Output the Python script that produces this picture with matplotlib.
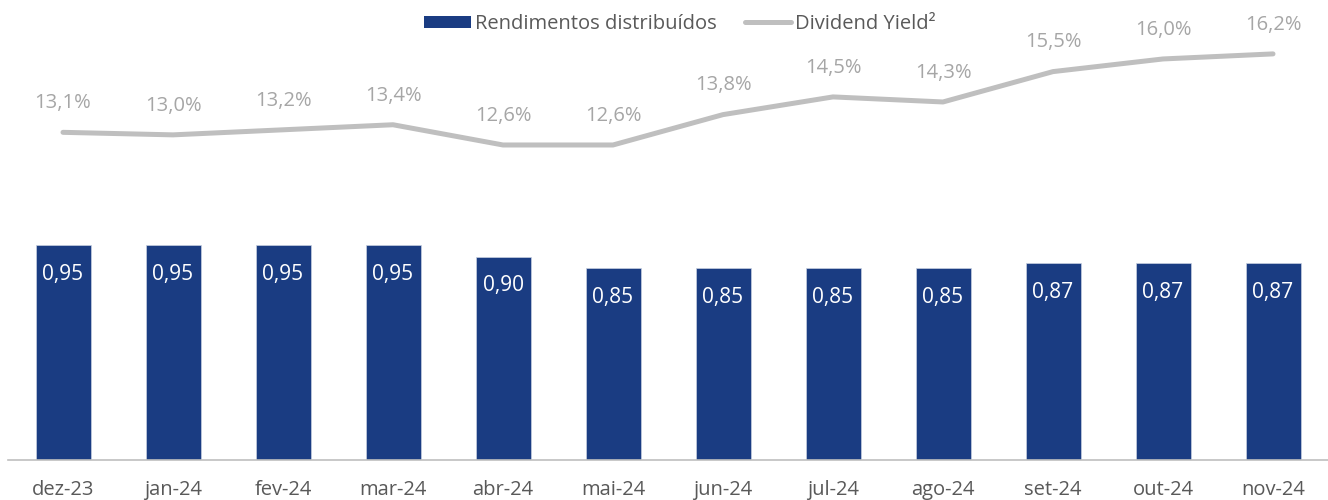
import numpy as np
import matplotlib.pyplot as plt
from matplotlib.patches import Patch
from matplotlib.lines import Line2D

plt.rcParams['font.family'] = ['Open Sans', 'DejaVu Sans']

meses = ['dez-23', 'jan-24', 'fev-24', 'mar-24', 'abr-24', 'mai-24',
         'jun-24', 'jul-24', 'ago-24', 'set-24', 'out-24', 'nov-24']
rendimentos = [0.95, 0.95, 0.95, 0.95, 0.90, 0.85, 0.85, 0.85, 0.85, 0.87, 0.87, 0.87]
dividend_yield = [13.1, 13.0, 13.2, 13.4, 12.6, 12.6, 13.8, 14.5, 14.3, 15.5, 16.0, 16.2]

azul = '#1a3c82'
cinza = '#bfbfbf'
texto = '#595959'

fig = plt.figure(figsize=(13.28, 5), dpi=100)
ax = fig.add_axes([8 / 1328, 40 / 500, 1320 / 1328, 460 / 500])
x = np.arange(len(meses))

ax.bar(x, rendimentos, width=0.5, color=azul, edgecolor='#c8d0e0', linewidth=0.5, zorder=2)
for xi, v in zip(x, rendimentos):
    ax.annotate(f'{v:.2f}'.replace('.', ','), (xi, v), xytext=(0, -21), textcoords='offset points',
                ha='center', va='center', color='white', fontsize=15)

ax.set_xlim(-0.5, len(meses) - 0.5)
ax.set_ylim(0, 2.035)
ax.set_xticks(x)
ax.set_xticklabels(meses, fontsize=14.5, color=texto)
ax.tick_params(axis='x', length=0, pad=14.5)
ax.set_yticks([])
for s in ['top', 'left', 'right']:
    ax.spines[s].set_visible(False)
ax.spines['bottom'].set_color(cinza)
ax.spines['bottom'].set_linewidth(1.2)

ax2 = ax.twinx()
ax2.plot(x, dividend_yield, color=cinza, linewidth=3.6, solid_capstyle='round', zorder=3)
for xi, v in zip(x, dividend_yield):
    ax2.annotate(f'{v:.1f}%'.replace('.', ','), (xi, v), xytext=(0, 21), textcoords='offset points',
                 ha='center', va='center', color='#a6a6a6', fontsize=14.5)
ax2.set_ylim(0.15, 18.33)
ax2.set_yticks([])
for s in ax2.spines.values():
    s.set_visible(False)

handles = [Patch(facecolor=azul, edgecolor='none'),
           Line2D([0], [0], color=cinza, linewidth=3.6, solid_capstyle='round')]
fig.legend(handles, ['Rendimentos distribuídos', 'Dividend Yield²'], loc='center',
           bbox_to_anchor=(680 / 1328, 0.952), ncol=2, frameon=False, fontsize=14.5,
           labelcolor=texto, handlelength=2.3, handletextpad=0.2, columnspacing=1.4,
           handleheight=0.6)

fig.savefig('out.png', dpi=100)
